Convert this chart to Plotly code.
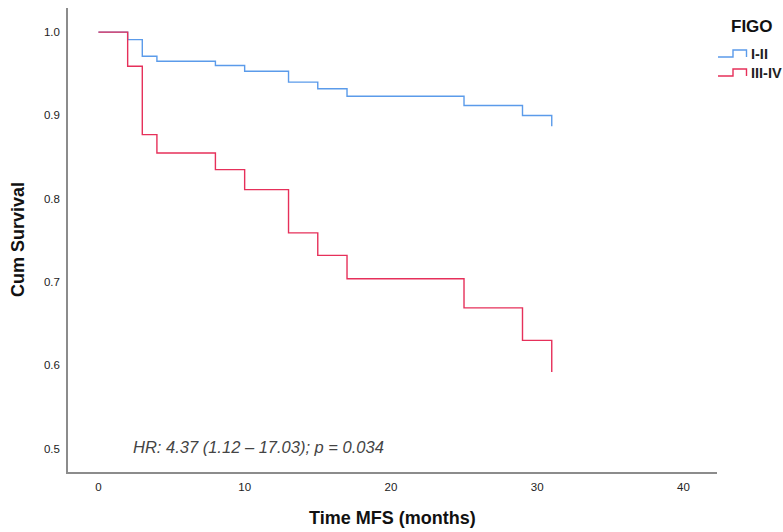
import plotly.graph_objects as go

# Data (Kaplan-Meier steps)
times = [0, 2, 3, 4, 8, 10, 13, 15, 17, 25, 29, 31]
surv_I_II = [1.0, 0.991, 0.971, 0.965, 0.960, 0.953, 0.940, 0.932, 0.923, 0.912, 0.900, 0.887]
surv_III_IV = [1.0, 0.959, 0.877, 0.855, 0.835, 0.811, 0.759, 0.732, 0.704, 0.669, 0.630, 0.592]
group_names = ["I-II", "III-IV"]
x_ticks = [0, 10, 20, 30, 40]
y_ticks = [0.5, 0.6, 0.7, 0.8, 0.9, 1.0]
hr_text = "HR: 4.37 (1.12 \u2013 17.03); p = 0.034"

BLUE = "#5b9bea"
RED = "#e6305a"
FONT = "Liberation Sans, Arial, sans-serif"

fig = go.Figure()
for name, s, c in [(group_names[0], surv_I_II, BLUE), (group_names[1], surv_III_IV, RED)]:
    fig.add_trace(go.Scatter(x=times, y=s, mode="lines", line=dict(color=c, width=1.4, shape="hv"),
                             name=name, showlegend=False))

W, H = 783, 532
L, R, T, B = 68, 66, 8, 60
PW, PH = W - L - R, H - T - B

fig.update_layout(
    width=W, height=H,
    margin=dict(l=L, r=R, t=T, b=B),
    plot_bgcolor="white", paper_bgcolor="white",
    font=dict(family=FONT, color="#222"),
    xaxis=dict(range=[-2.08, 42.3], tickvals=x_ticks, showgrid=False, zeroline=False,
               showline=True, linecolor="#8c8c8c", linewidth=1.5, ticks="",
               tickfont=dict(size=11.5, color="#222"), ticklabelstandoff=3),
    yaxis=dict(range=[0.472, 1.029], tickvals=y_ticks, tickformat=".1f", showgrid=False,
               zeroline=False, showline=True, linecolor="#8c8c8c", linewidth=1.5, ticks="",
               tickfont=dict(size=11.5, color="#222"), ticklabelstandoff=4),
)

def px(x):
    return (x - L) / PW

def py(y):
    return (H - B - y) / PH

# Axis titles
fig.add_annotation(text="<b>Time MFS (months)</b>", x=px(392), y=py(518), xref="paper", yref="paper",
                   showarrow=False, font=dict(size=18, color="#111", family=FONT),
                   xanchor="center", yanchor="middle")
fig.add_annotation(text="<b>Cum Survival</b>", x=px(18), y=py(240), xref="paper", yref="paper",
                   showarrow=False, textangle=-90, font=dict(size=18, color="#111", family=FONT),
                   xanchor="center", yanchor="middle")

# HR text
fig.add_annotation(text="<i>" + hr_text + "</i>", x=px(131), y=py(447), xref="paper", yref="paper",
                   showarrow=False, font=dict(size=16.5, color="#444", family=FONT),
                   xanchor="left", yanchor="middle")

# Legend
fig.add_annotation(text="<b>FIGO</b>", x=px(729), y=py(27), xref="paper", yref="paper",
                   showarrow=False, font=dict(size=17, color="#111", family=FONT),
                   xanchor="left", yanchor="middle")
for i, (name, c) in enumerate(zip(group_names, [BLUE, RED])):
    base = 57 + i * 19
    top = base - 7
    path = (f"M {px(718)} {py(base)} L {px(733)} {py(base)} L {px(733)} {py(top)} "
            f"L {px(746.5)} {py(top)} L {px(746.5)} {py(base)}")
    fig.add_shape(type="path", path=path, xref="paper", yref="paper",
                  line=dict(color=c, width=1.4))
    fig.add_annotation(text="<b>" + name + "</b>", x=px(749), y=py(base - 3), xref="paper",
                       yref="paper", showarrow=False, font=dict(size=14.5, color="#222", family=FONT),
                       xanchor="left", yanchor="middle")

fig.write_html("out.html")
